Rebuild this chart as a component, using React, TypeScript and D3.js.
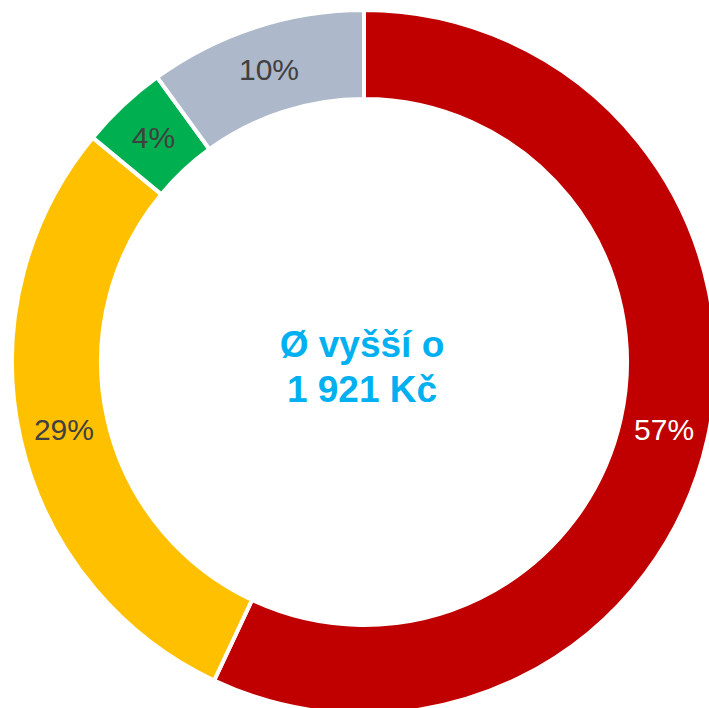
import React from "react";
import * as d3 from "d3";

const categories = ["A", "B", "C", "D"];
const values = [57, 29, 4, 10];
const labels = ["57%", "29%", "4%", "10%"];
const colors = ["#C00000", "#FFC000", "#00B050", "#ADB9CA"];
const labelColors = ["#FFFFFF", "#404040", "#404040", "#404040"];
const centerLines = ["Ø vyšší o", "1 921 Kč"];

export default function App() {
  const W = 709;
  const H = 708;
  const cx = 364;
  const cy = 362;
  const outerR = 352;
  const innerR = 263;
  const pie = d3.pie<number>().sort(null).value((d) => d)(values);
  const arc = d3.arc<d3.PieArcDatum<number>>().innerRadius(innerR).outerRadius(outerR);
  const labelArc = d3
    .arc<d3.PieArcDatum<number>>()
    .innerRadius((innerR + outerR) / 2)
    .outerRadius((innerR + outerR) / 2);
  return (
    <svg
      width={W}
      height={H}
      style={{ position: "absolute", left: 0, top: 0, background: "#fff" }}
      fontFamily="'Liberation Sans', Arial, sans-serif"
    >
      <g transform={`translate(${cx},${cy})`}>
        {pie.map((p, i) => (
          <path key={categories[i]} d={arc(p) || ""} fill={colors[i]} stroke="#fff" strokeWidth={4} strokeLinejoin="miter" />
        ))}
        {pie.map((p, i) => {
          const [x, y] = labelArc.centroid(p);
          return (
            <text
              key={"l" + i}
              x={x}
              y={y}
              textAnchor="middle"
              dominantBaseline="central"
              fontSize={30}
              fill={labelColors[i]}
            >
              {labels[i]}
            </text>
          );
        })}
        <text textAnchor="middle" fontWeight="bold" fontSize={37} fill="#00B0F0">
          <tspan x={-2} y={-5}>{centerLines[0]}</tspan>
          <tspan x={-2} y={40}>{centerLines[1]}</tspan>
        </text>
      </g>
    </svg>
  );
}
